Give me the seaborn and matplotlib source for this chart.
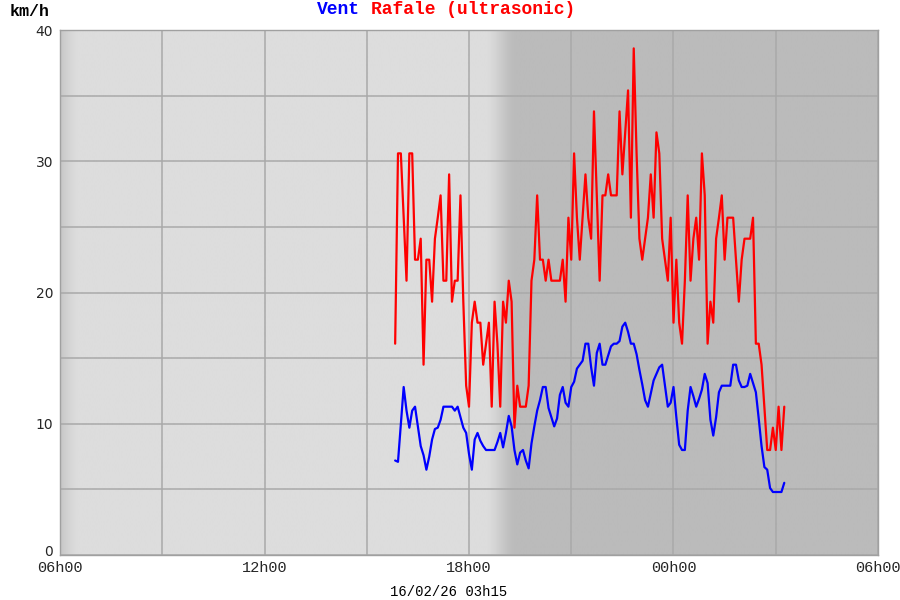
import numpy as np
import pandas as pd
import matplotlib
matplotlib.use("Agg")
import matplotlib.pyplot as plt
import matplotlib.transforms as mtransforms
import seaborn as sns

# ---- data (hours after 06h00, 5-minute samples from 15h50 to 03h15) ----
start_hour = 9 + 50 / 60.0
step_hour = 5 / 60.0

rafale = [16.1, 30.6, 30.6, 25.7, 20.9, 30.6, 30.6, 22.5, 22.5, 24.1,
          14.5, 22.5, 22.5, 19.3, 24.1, 25.7, 27.4, 20.9, 20.9, 29.0,
          19.3, 20.9, 20.9, 27.4, 19.3, 12.9, 11.3, 17.7, 19.3, 17.7,
          17.7, 14.5, 16.1, 17.7, 11.3, 19.3, 16.1, 11.3, 19.3, 17.7,
          20.9, 19.3, 9.7, 12.9, 11.3, 11.3, 11.3, 12.9, 20.9, 22.5,
          27.4, 22.5, 22.5, 20.9, 22.5, 20.9, 20.9, 20.9, 20.9, 22.5,
          19.3, 25.7, 22.5, 30.6, 25.7, 22.5, 25.7, 29.0, 25.7, 24.1,
          33.8, 27.4, 20.9, 27.4, 27.4, 29.0, 27.4, 27.4, 27.4, 33.8,
          29.0, 32.2, 35.4, 25.7, 38.6, 30.6, 24.1, 22.5, 24.1, 25.7,
          29.0, 25.7, 32.2, 30.6, 24.1, 22.5, 20.9, 25.7, 17.7, 22.5,
          17.7, 16.1, 20.9, 27.4, 20.9, 24.1, 25.7, 22.5, 30.6, 27.4,
          16.1, 19.3, 17.7, 24.1, 25.7, 27.4, 22.5, 25.7, 25.7, 25.7,
          22.5, 19.3, 22.5, 24.1, 24.1, 24.1, 25.7, 16.1, 16.1, 14.5,
          11.3, 8.0, 8.0, 9.7, 8.0, 11.3, 8.0, 11.3]

vent = [7.2, 7.1, 10.0, 12.8, 11.0, 9.7, 11.0, 11.3, 9.8, 8.3,
        7.6, 6.5, 7.5, 8.8, 9.6, 9.7, 10.3, 11.3, 11.3, 11.3,
        11.3, 11.0, 11.3, 10.5, 9.7, 9.3, 7.7, 6.5, 8.8, 9.3,
        8.7, 8.3, 8.0, 8.0, 8.0, 8.0, 8.6, 9.3, 8.2, 9.3,
        10.6, 9.8, 8.0, 6.9, 7.8, 8.0, 7.2, 6.6, 8.5, 9.8,
        11.0, 11.8, 12.8, 12.8, 11.2, 10.5, 9.8, 10.4, 12.2, 12.8,
        11.6, 11.3, 12.8, 13.2, 14.2, 14.5, 14.8, 16.1, 16.1, 14.3,
        12.9, 15.4, 16.1, 14.5, 14.5, 15.2, 15.9, 16.1, 16.1, 16.3,
        17.4, 17.7, 17.0, 16.1, 16.1, 15.3, 14.1, 13.0, 11.8, 11.3,
        12.3, 13.3, 13.8, 14.3, 14.5, 12.9, 11.3, 11.6, 12.8, 10.5,
        8.4, 8.0, 8.0, 11.0, 12.8, 12.1, 11.3, 11.9, 12.6, 13.8,
        13.1, 10.3, 9.1, 10.5, 12.4, 12.9, 12.9, 12.9, 12.9, 14.5,
        14.5, 13.3, 12.8, 12.8, 12.9, 13.8, 13.1, 12.4, 10.4, 8.3,
        6.7, 6.5, 5.1, 4.8, 4.8, 4.8, 4.8, 5.5]

x_ticks = [0, 3, 6, 9, 12, 15, 18, 21, 24]
x_labels = ["06h00", "", "12h00", "", "18h00", "", "00h00", "", "06h00"]
y_ticks = [0, 5, 10, 15, 20, 25, 30, 35, 40]
y_labels = ["0", "", "10", "", "20", "", "30", "", "40"]

hours = start_hour + step_hour * np.arange(len(vent))
df = pd.DataFrame({"h": hours, "vent": vent, "rafale": rafale})

sns.set_theme(style="white")
plt.rcParams["font.family"] = ["DejaVu Sans"]

fig = plt.figure(figsize=(9, 6), dpi=100)
fig.patch.set_facecolor("white")
ax = fig.add_axes([60 / 900, 45 / 600, 818 / 900, 525 / 600])

# background shading (left edge + night)
xs = np.linspace(0, 24, 2000)
bg = np.full_like(xs, 221 / 255)
left = np.clip(xs / 0.55, 0, 1)
bg = bg - (1 - left) ** 1.5 * (24 / 255)
t = np.clip((xs - 12.45) / (13.4 - 12.45), 0, 1)
t = t * t * (3 - 2 * t)
bg = bg - t * (34 / 255)
ax.imshow(bg[np.newaxis, :], extent=[0, 24, 0, 40], aspect="auto",
          cmap="gray", vmin=0, vmax=1, interpolation="bilinear", zorder=0)

sns.lineplot(data=df, x="h", y="rafale", color="#ff0000", linewidth=1.6,
             ax=ax, zorder=3)
sns.lineplot(data=df, x="h", y="vent", color="#0000ff", linewidth=1.6,
             ax=ax, zorder=4)

ax.set_xlim(0, 24)
ax.set_ylim(0, 40)
ax.set_xticks(x_ticks)
ax.set_xticklabels(x_labels, family="Liberation Mono", fontsize=11)
ax.set_yticks(y_ticks)
ax.set_yticklabels(y_labels, fontsize=10)
ax.tick_params(axis="both", length=0)
ax.tick_params(axis="x", pad=4)
ax.tick_params(axis="y", pad=5)
ax.set_xlabel("")
ax.set_ylabel("")
ax.grid(True, color="#a9a9a9", linewidth=1.1)
ax.set_axisbelow(True)
for s in ax.spines.values():
    s.set_color("#a0a0a0")
    s.set_linewidth(1.0)
    s.set_visible(True)

# lift the "0" label a little so it clears the first time label
zero_lbl = ax.get_yticklabels()[0]
zero_lbl.set_transform(zero_lbl.get_transform() +
                       mtransforms.ScaledTranslation(0, 5 / 100, fig.dpi_scale_trans))

fig.text(10 / 900, 1 - 12 / 600, "km/h", ha="left", va="center",
         family="Liberation Mono", weight="bold", fontsize=12, color="black")
fig.text(317 / 900, 1 - 10 / 600, "Vent", ha="left", va="center",
         family="Liberation Mono", weight="bold", fontsize=13, color="#0000ff")
fig.text(371 / 900, 1 - 10 / 600, "Rafale (ultrasonic)", ha="left", va="center",
         family="Liberation Mono", weight="bold", fontsize=13, color="#ff0000")
fig.text(449 / 900, 1 - 592 / 600, "16/02/26 03h15", ha="center", va="center",
         family="Liberation Mono", fontsize=10, color="black")

fig.savefig("out.png", dpi=100)
